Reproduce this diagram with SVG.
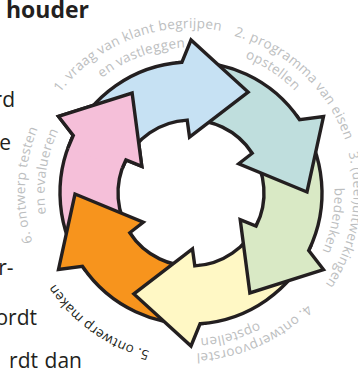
<svg xmlns="http://www.w3.org/2000/svg" xmlns:xlink="http://www.w3.org/1999/xlink" width="358" height="371" viewBox="0 0 358 371">
<style>
.arrow{stroke:#231f20;stroke-width:3.4;stroke-linejoin:miter;stroke-miterlimit:12}
.lbl{font-family:"Open Sans","Noto Sans",sans-serif;font-size:13.5px;fill:#bcbec0;letter-spacing:0.3px}
.dark{fill:#231f20}
.body{font-family:"Open Sans","Noto Sans",sans-serif;font-size:21px;fill:#231f20}
</style>
<defs>
<path id="arrowShape" d="M-119.67,-53.28 A131,131 0 0 1 -9.14,-130.68 L0,-153 L57.12,-100.96 L-1.47,-55.98 L-3.82,-72.9 A73,73 0 0 0 -66.69,-29.69 Z"/>
<clipPath id="wedge6"><polygon points="191,193 3,124.6 139.2,-0.2"/></clipPath>
<path id="p1a" d="M29.03,224.48 A165,165 0 0 1 332.43,108.02"/>
<path id="p1b" d="M47.71,218.27 A145.5,145.5 0 0 1 317.01,120.25"/>
<path id="p2a" d="M93.59,62.31 A163,163 0 0 1 327.24,282.49"/>
<path id="p2b" d="M85.81,92.48 A145.5,145.5 0 0 1 324.23,251.48"/>
<path id="p3a" d="M246.58,40.3 A162.5,162.5 0 0 1 191,355.5"/>
<path id="p3b" d="M242.43,59.03 A143.5,143.5 0 0 1 188.5,336.48"/>
<path id="p4a" d="M346.73,154.17 A160.5,160.5 0 0 1 57.94,282.75"/>
<path id="p4b" d="M335.83,179.05 A145.5,145.5 0 0 1 59.67,255.64"/>
<path id="p5" d="M305.6,309.62 A163.5,163.5 0 0 1 43.43,122.61"/>
<path id="p6a" d="M154.22,354.87 A166,166 0 0 1 170.2,28.31"/>
<path id="p6b" d="M144.52,331.93 A146.5,146.5 0 0 1 187.16,46.55"/>
</defs>

<g id="page-text" class="body" text-anchor="end">
<text x="89" y="18" font-weight="700" font-size="23">houder</text>
<text x="15" y="107">rd</text>
<text x="11" y="150">e</text>
<text x="13.5" y="275">r-</text>
<text x="37" y="325">ordt</text>
<text y="368"><tspan x="38">rdt</tspan><tspan x="82">dan</tspan></text>
</g>

<g id="step6">
<use xlink:href="#arrowShape" class="arrow" fill="#f5bfd9" transform="translate(191,193) rotate(300)"/>
<text class="lbl" text-anchor="middle"><textPath xlink:href="#p6a" startOffset="50%">6. ontwerp testen</textPath></text>
<text class="lbl" text-anchor="middle"><textPath xlink:href="#p6b" startOffset="50%">en evalueren</textPath></text>
</g>
<g id="step5">
<use xlink:href="#arrowShape" class="arrow" fill="#f7941d" transform="translate(191,193) rotate(240)"/>
<text class="lbl dark" text-anchor="middle"><textPath xlink:href="#p5" startOffset="50%">5. ontwerp maken</textPath></text>
</g>
<g id="step4">
<use xlink:href="#arrowShape" class="arrow" fill="#fff8c5" transform="translate(191,193) rotate(180)"/>
<text class="lbl" text-anchor="middle"><textPath xlink:href="#p4a" startOffset="50%">4. ontwerpvoorstel</textPath></text>
<text class="lbl" text-anchor="middle"><textPath xlink:href="#p4b" startOffset="50%">opstellen</textPath></text>
</g>
<g id="step3">
<use xlink:href="#arrowShape" class="arrow" fill="#d9e9c5" transform="translate(191,193) rotate(120)"/>
<text class="lbl" text-anchor="middle"><textPath xlink:href="#p3a" startOffset="50%">3. (deel)uitwerkingen</textPath></text>
<text class="lbl" text-anchor="middle"><textPath xlink:href="#p3b" startOffset="50%">bedenken</textPath></text>
</g>
<g id="step2">
<use xlink:href="#arrowShape" class="arrow" fill="#bfdedd" transform="translate(191,193) rotate(60)"/>
<text class="lbl" text-anchor="middle"><textPath xlink:href="#p2a" startOffset="50%">2. programma van eisen</textPath></text>
<text class="lbl" text-anchor="middle"><textPath xlink:href="#p2b" startOffset="50%">opstellen</textPath></text>
</g>
<g id="step1">
<use xlink:href="#arrowShape" class="arrow" fill="#c6e1f3" transform="translate(191,193)"/>
<text class="lbl" text-anchor="middle"><textPath xlink:href="#p1a" startOffset="50%">1. vraag van klant begrijpen</textPath></text>
<text class="lbl" text-anchor="middle"><textPath xlink:href="#p1b" startOffset="50%">en vastleggen</textPath></text>
</g>
<g id="step6-head" clip-path="url(#wedge6)">
<use xlink:href="#arrowShape" class="arrow" fill="#f5bfd9" transform="translate(191,193) rotate(300)"/>
</g>
</svg>
